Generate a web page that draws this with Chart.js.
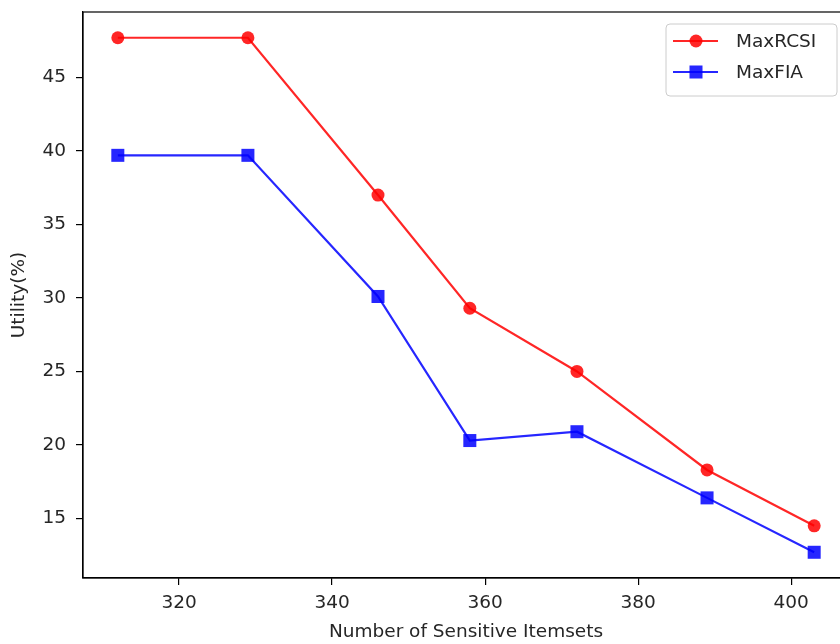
<!DOCTYPE html>
<html>
<head>
<meta charset="utf-8">
<script src="https://cdn.jsdelivr.net/npm/chart.js@4.4.1/dist/chart.umd.min.js"></script>
<style>
  html, body { margin: 0; padding: 0; background: #fff; overflow: hidden; }
  #wrap { width: 870px; height: 644px; }
</style>
</head>
<body>
<div id="wrap"><canvas id="utilChart" width="870" height="644"></canvas></div>
<script>
// sensitive itemset counts and utility per method
var itemsets = [312, 329, 346, 358, 372, 389, 403];
var maxRCSI  = [47.7, 47.7, 37.0, 29.3, 25.0, 18.3, 14.5];
var maxFIA   = [39.7, 39.7, 30.1, 20.3, 20.9, 16.4, 12.7];

var xTicks = [320, 340, 360, 380, 400];
var yTicks = [15, 20, 25, 30, 35, 40, 45];

var fontFamily = "'DejaVu Sans', sans-serif";
var textColor  = '#262626';

var toPoints = function(ys) {
    return itemsets.map(function(x, i) { return { x: x, y: ys[i] }; });
};

// axes range with a 5% margin around the data
var xMin = Math.min.apply(null, itemsets), xMax = Math.max.apply(null, itemsets);
var allY = maxRCSI.concat(maxFIA);
var yMin = Math.min.apply(null, allY), yMax = Math.max.apply(null, allY);
var xPad = (xMax - xMin) * 0.05, yPad = (yMax - yMin) * 0.05;

// box around the plot + legend with line and marker
var framePlugin = {
    id: 'frame',
    afterDraw: function(chart) {
        var ctx = chart.ctx, a = chart.chartArea;
        ctx.save();
        ctx.strokeStyle = '#000';
        ctx.lineWidth = 1.2;
        ctx.strokeRect(a.left, a.top, a.right - a.left, a.bottom - a.top);

        // legend
        var lx = 666, ly = 24, lw = 171, lh = 72;
        ctx.beginPath();
        ctx.roundRect(lx, ly, lw, lh, 4);
        ctx.fillStyle = 'rgba(255,255,255,0.85)';
        ctx.fill();
        ctx.strokeStyle = '#cccccc';
        ctx.lineWidth = 1;
        ctx.stroke();

        chart.data.datasets.forEach(function(ds, i) {
            var y = ly + 17 + i * 31;
            ctx.strokeStyle = ds.borderColor;
            ctx.lineWidth = ds.borderWidth;
            ctx.beginPath();
            ctx.moveTo(lx + 7, y);
            ctx.lineTo(lx + 52, y);
            ctx.stroke();
            ctx.fillStyle = ds.pointBackgroundColor;
            ctx.strokeStyle = ds.pointBorderColor;
            Chart.helpers.drawPoint(ctx, {
                pointStyle: ds.pointStyle,
                radius: ds.pointRadius,
                borderWidth: 0
            }, lx + 30, y);
            ctx.fillStyle = textColor;
            ctx.font = '18.5px ' + fontFamily;
            ctx.textBaseline = 'middle';
            ctx.textAlign = 'left';
            ctx.fillText(ds.label, lx + 70, y + 1);
        });
        ctx.restore();
    }
};

var utilChart = new Chart(document.getElementById('utilChart'), {
    type: 'line',
    data: {
        datasets: [{
            label: 'MaxRCSI',
            data: toPoints(maxRCSI),
            borderColor: 'rgba(255,0,0,0.85)',
            backgroundColor: 'rgba(255,0,0,0.85)',
            pointBackgroundColor: 'rgba(255,0,0,0.85)',
            pointBorderColor: 'rgba(255,0,0,0.85)',
            borderWidth: 2.2,
            pointStyle: 'circle',
            pointRadius: 6.5,
            pointBorderWidth: 0,
            tension: 0
        }, {
            label: 'MaxFIA',
            data: toPoints(maxFIA),
            borderColor: 'rgba(0,0,255,0.85)',
            backgroundColor: 'rgba(0,0,255,0.85)',
            pointBackgroundColor: 'rgba(0,0,255,0.85)',
            pointBorderColor: 'rgba(0,0,255,0.85)',
            borderWidth: 2.2,
            pointStyle: 'rect',
            pointRadius: 9.2,
            pointBorderWidth: 0,
            tension: 0
        }]
    },
    options: {
        responsive: false,
        animation: false,
        layout: { padding: { top: 12, right: 21, left: 0, bottom: 0 } },
        plugins: {
            legend: { display: false },
            tooltip: { enabled: false }
        },
        scales: {
            x: {
                type: 'linear',
                min: xMin - xPad,
                max: xMax + xPad,
                afterBuildTicks: function(s) { s.ticks = xTicks.map(function(v) { return { value: v }; }); },
                afterFit: function(s) { s.height = 66; s.paddingLeft = 0; s.paddingRight = 0; },
                grid: { drawOnChartArea: false, tickLength: 7, color: '#000', lineWidth: 1.2 },
                border: { color: '#000', width: 1.2 },
                ticks: { color: textColor, padding: 7, maxRotation: 0,
                         font: { family: fontFamily, size: 18.5 } },
                title: { display: true, text: 'Number of Sensitive Itemsets', color: textColor,
                         padding: { top: 0, bottom: 1 },
                         font: { family: fontFamily, size: 18.5 } }
            },
            y: {
                min: yMin - yPad,
                max: yMax + yPad,
                afterBuildTicks: function(s) { s.ticks = yTicks.map(function(v) { return { value: v }; }); },
                afterFit: function(s) { s.width = 83; s.paddingTop = 0; s.paddingBottom = 0; },
                grid: { drawOnChartArea: false, tickLength: 7, color: '#000', lineWidth: 1.2 },
                border: { color: '#000', width: 1.2 },
                ticks: { color: textColor, padding: 10,
                         font: { family: fontFamily, size: 18.5 } },
                title: { display: true, text: 'Utility(%)', color: textColor,
                         padding: { top: 8, bottom: 0 },
                         font: { family: fontFamily, size: 18.5 } }
            }
        }
    },
    plugins: [framePlugin]
});
</script>
</body>
</html>
